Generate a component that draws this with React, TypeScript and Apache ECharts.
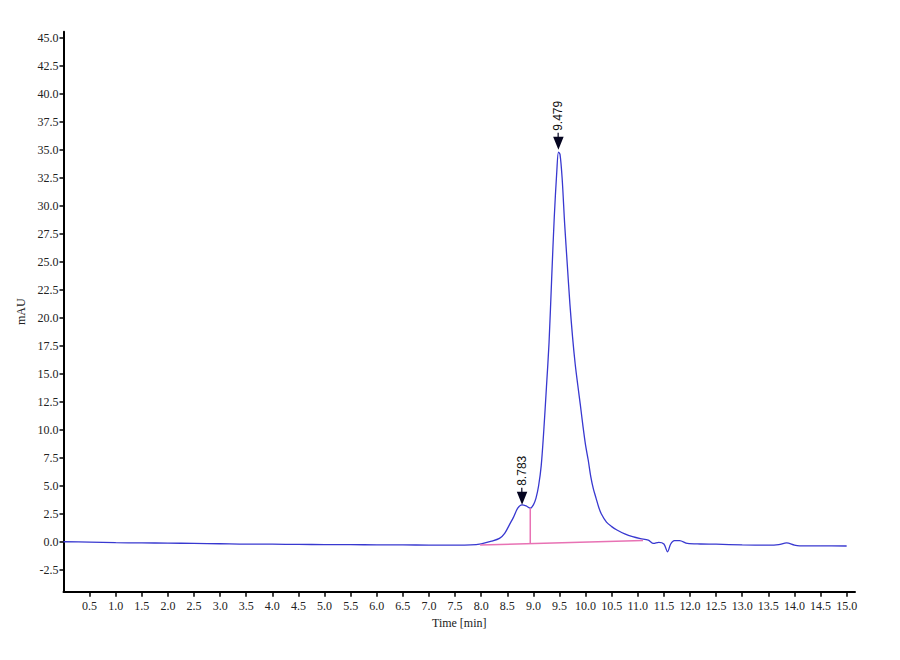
import React, { useEffect, useRef } from "react";
import * as echarts from "echarts";

// Chromatogram trace (time in min, absorbance in mAU)
const traceTimes = [
  0, 0.5, 1.0, 1.5, 2.0, 2.5, 3.0, 3.5, 4.0, 4.5, 5.0, 5.5, 6.0, 6.5, 7.0, 7.5,
  7.8, 8.0, 8.2, 8.35, 8.45, 8.55, 8.62, 8.7, 8.78, 8.86, 8.94, 9.0, 9.05, 9.1,
  9.15, 9.2, 9.25, 9.3, 9.35, 9.4, 9.45, 9.48, 9.51, 9.55, 9.6, 9.65, 9.7, 9.75,
  9.8, 9.85, 9.9, 9.95, 10.0, 10.05, 10.1, 10.15, 10.2, 10.25, 10.3, 10.4, 10.5,
  10.6, 10.75, 10.9, 11.05, 11.2, 11.3, 11.4, 11.5, 11.57, 11.63, 11.7, 11.8,
  11.95, 12.2, 12.5, 13.0, 13.5, 13.7, 13.85, 14.0, 14.1, 14.5, 15.0,
];
const traceValues = [
  0.0, -0.03, -0.08, -0.1, -0.12, -0.15, -0.18, -0.22, -0.22, -0.24, -0.25,
  -0.26, -0.27, -0.28, -0.3, -0.3, -0.28, -0.18, 0.05, 0.3, 0.75, 1.6, 2.2, 3.0,
  3.3, 3.2, 3.0, 3.3, 3.9, 5.0, 6.8, 10.0, 13.8, 17.8, 23.5, 29.0, 33.2, 34.8,
  34.6, 32.5, 28.3, 24.7, 21.2, 18.3, 15.9, 14.0, 12.2, 10.3, 8.6, 7.3, 5.8, 4.7,
  3.9, 3.1, 2.5, 1.75, 1.35, 1.05, 0.7, 0.45, 0.28, 0.15, -0.15, -0.05, -0.2,
  -0.9, -0.2, 0.1, 0.1, -0.15, -0.2, -0.22, -0.28, -0.3, -0.25, -0.1, -0.3,
  -0.36, -0.37, -0.38,
];

// Integration baseline and peak split (drop line)
const baselineTimes = [7.98, 11.1];
const baselineValues = [-0.3, 0.12];
const dropTimes = [8.94, 8.94];
const dropValues = [-0.17, 3.0];

// Peak annotations
const peakTimes = [8.783, 9.479];
const peakHeights = [3.3, 35.0];
const peakLabels = ["8.783", "9.479"];

// Axis ticks
const xTicks = [
  0.5, 1.0, 1.5, 2.0, 2.5, 3.0, 3.5, 4.0, 4.5, 5.0, 5.5, 6.0, 6.5, 7.0, 7.5, 8.0,
  8.5, 9.0, 9.5, 10.0, 10.5, 11.0, 11.5, 12.0, 12.5, 13.0, 13.5, 14.0, 14.5, 15.0,
];
const yTicks = [
  -2.5, 0, 2.5, 5, 7.5, 10, 12.5, 15, 17.5, 20, 22.5, 25, 27.5, 30, 32.5, 35,
  37.5, 40, 42.5, 45,
];

const serif = "Liberation Serif";
const sans = "Liberation Sans";
const arrowPath = "path://M4.4,0 L5.6,0 L5.6,4 L10.5,4 L5.25,17 L0,4 L4.4,4 Z";

const tickLabelRich = {
  s: { fontFamily: serif, fontSize: 12, color: "#222" },
};

export default function App() {
  const ref = useRef<HTMLDivElement>(null);

  useEffect(() => {
    if (!ref.current) return;
    const chart = echarts.init(ref.current, null, { renderer: "svg" });
    const zip = (a: number[], b: number[]) => a.map((t, i) => [t, b[i]]);

    chart.setOption({
      animation: false,
      backgroundColor: "#ffffff",
      textStyle: { fontFamily: serif },
      grid: { left: 63.5, right: 45, top: 31.7, bottom: 68.3 },
      xAxis: {
        type: "value",
        min: 0,
        max: 15.16,
        name: "Time [min]",
        nameLocation: "middle",
        nameGap: 21,
        nameTextStyle: { fontFamily: serif, fontSize: 12, color: "#222" },
        axisLine: { onZero: false, lineStyle: { color: "#000", width: 2 } },
        axisTick: {
          customValues: xTicks,
          length: 5,
          lineStyle: { color: "#000", width: 1.5 },
        },
        axisLabel: {
          customValues: xTicks,
          formatter: (v: number) => "{s|" + Number(v).toFixed(1) + "}",
          rich: tickLabelRich,
          fontFamily: serif,
          fontSize: 12,
          color: "#222",
          margin: 8,
        },
        splitLine: { show: false },
      },
      yAxis: {
        type: "value",
        min: -4.46,
        max: 45.55,
        name: "mAU",
        nameLocation: "middle",
        nameGap: 18,
        nameRotate: 90,
        nameTextStyle: { fontFamily: serif, fontSize: 12, color: "#222" },
        axisLine: { show: true, onZero: false, lineStyle: { color: "#000", width: 2 } },
        axisTick: {
          show: true,
          customValues: yTicks,
          length: 4,
          lineStyle: { color: "#000", width: 1.5 },
        },
        axisLabel: {
          customValues: yTicks,
          formatter: (v: number) => "{s|" + Number(v).toFixed(1) + "}",
          rich: tickLabelRich,
          fontFamily: serif,
          fontSize: 12,
          color: "#222",
          margin: 5,
        },
        splitLine: { show: false },
      },
      series: [
        {
          type: "line",
          data: zip(traceTimes, traceValues),
          smooth: 0.3,
          showSymbol: false,
          lineStyle: { color: "#3838d0", width: 1.3 },
          z: 2,
        },
        {
          type: "line",
          data: zip(baselineTimes, baselineValues),
          showSymbol: false,
          lineStyle: { color: "#e872b4", width: 1.5 },
          z: 3,
        },
        {
          type: "line",
          data: zip(dropTimes, dropValues),
          showSymbol: false,
          lineStyle: { color: "#e872b4", width: 1.5 },
          z: 3,
        },
        {
          type: "scatter",
          data: zip(peakTimes, peakHeights),
          symbol: arrowPath,
          symbolSize: [10.5, 17],
          symbolOffset: [0, -8.5],
          itemStyle: { color: "#050520", opacity: 1 },
          z: 4,
          label: {
            show: true,
            position: "top",
            distance: 2,
            rotate: 90,
            align: "left",
            verticalAlign: "middle",
            fontFamily: sans,
            fontSize: 12,
            color: "#111",
            formatter: (p: any) => peakLabels[p.dataIndex],
          },
        },
      ],
    });

    return () => chart.dispose();
  }, []);

  return (
    <div
      ref={ref}
      style={{ position: "fixed", left: 0, top: 0, width: 900, height: 660 }}
    />
  );
}
